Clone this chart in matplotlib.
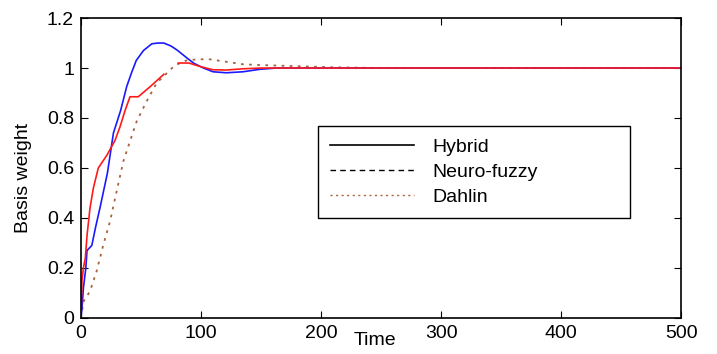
import numpy as np
import matplotlib
matplotlib.use('Agg')
from matplotlib import pyplot
from matplotlib.lines import Line2D

pyplot.rcParams['font.family'] = ['Liberation Sans', 'DejaVu Sans']

#curves (nan = gap in the line):
t_hyb = [0, 1, 2, 4, 5, 9, 12, 16, 22, 27, 33, 38, 42, 46, 52, 59, 64, 69, 75, 80, 87, 94, 102, 110, 121, 135, 149, 163, 180, 250, 500]
y_hyb = [0, 0.05, 0.12, 0.2, 0.27, 0.29, 0.36, 0.445, 0.58, 0.74, 0.83, 0.925, 0.98, 1.03, 1.07, 1.097, 1.1, 1.1, 1.088, 1.072, 1.045, 1.019, 1.0, 0.985, 0.981, 0.985, 0.995, 1.0, 1.0, 1.0, 1.0]

t_nf = [0, 0.8, 2, 3.6, 5, 7.5, 10.3, 14.4, 21.4, 28.3, 32.5, 36.7, 40.8, 44, 47.7, 57.5, 69, 75, 81, 90, 100, 110, 121, 135, 150, 170, 200, 500]
y_nf = [0, 0.15, 0.2, 0.24, 0.33, 0.44, 0.52, 0.6, 0.65, 0.71, 0.765, 0.83, 0.885, 0.885, 0.885, 0.925, 0.975, np.nan, 1.02, 1.02, 1.005, 0.993, 0.992, 0.997, 1.0, 1.0, 1.0, 1.0]

t_dah = [0, 2, 7.5, 13, 18.6, 24.2, 29.7, 35.3, 40.8, 46.4, 54.7, 63, 71.4, 78, 87.5, 97, 107, 121, 135, 149, 175, 210, 250, 500]
y_dah = [0, 0.065, 0.107, 0.187, 0.293, 0.387, 0.507, 0.627, 0.707, 0.787, 0.867, 0.94, 0.979, 1.01, 1.03, 1.035, 1.035, 1.025, 1.015, 1.012, 1.008, 1.003, 1.0, 1.0]

labels = ['Hybrid', 'Neuro-fuzzy', 'Dahlin']
brown = '#a8623c'

#plot:
pyplot.close('all')
fig = pyplot.figure(figsize=(7.17, 3.54), dpi=100)
ax = pyplot.axes([0.113, 0.102, 0.837, 0.847])
ax.plot(t_dah, y_dah, color=brown, lw=1.3, ls=(0, (1.5, 3)))
ax.plot(t_hyb, y_hyb, color='#1a1aff', lw=1.2)
ax.plot(t_nf, y_nf, color='#ff1a1a', lw=1.2)

ax.set_xlim(0, 500)
ax.set_ylim(0, 1.2)
ax.set_xticks([0, 100, 200, 300, 400, 500])
ax.set_yticks([0, 0.2, 0.4, 0.6, 0.8, 1.0, 1.2])
ax.set_yticklabels(['0', '0.2', '0.4', '0.6', '0.8', '1', '1.2'])
ax.tick_params(direction='in', top=True, right=True, length=5, labelsize=14, pad=5)
for s in ax.spines.values():
	s.set_linewidth(1.2)

ax.set_xlabel('Time', size=14)
ax.xaxis.set_label_coords(0.49, -0.048)
ax.set_ylabel('Basis weight', size=14)
ax.yaxis.set_label_coords(-0.082, 0.467)

handles = [Line2D([], [], color='k', lw=1.2),
	Line2D([], [], color='k', lw=1.0, ls=(0, (4, 3))),
	Line2D([], [], color=brown, lw=1.0, ls=(0, (1.5, 2.5)))]
leg = ax.legend(handles, labels, loc='upper left', bbox_to_anchor=(0.395, 0.32, 0.52, 0.321),
	mode='expand', borderaxespad=0, fontsize=14, handlelength=4.3, handletextpad=0.93,
	borderpad=0.63, labelspacing=0.39, fancybox=False, framealpha=1)
leg.get_frame().set_edgecolor('k')
leg.get_frame().set_linewidth(1.0)

pyplot.savefig('out.png', dpi=100)
